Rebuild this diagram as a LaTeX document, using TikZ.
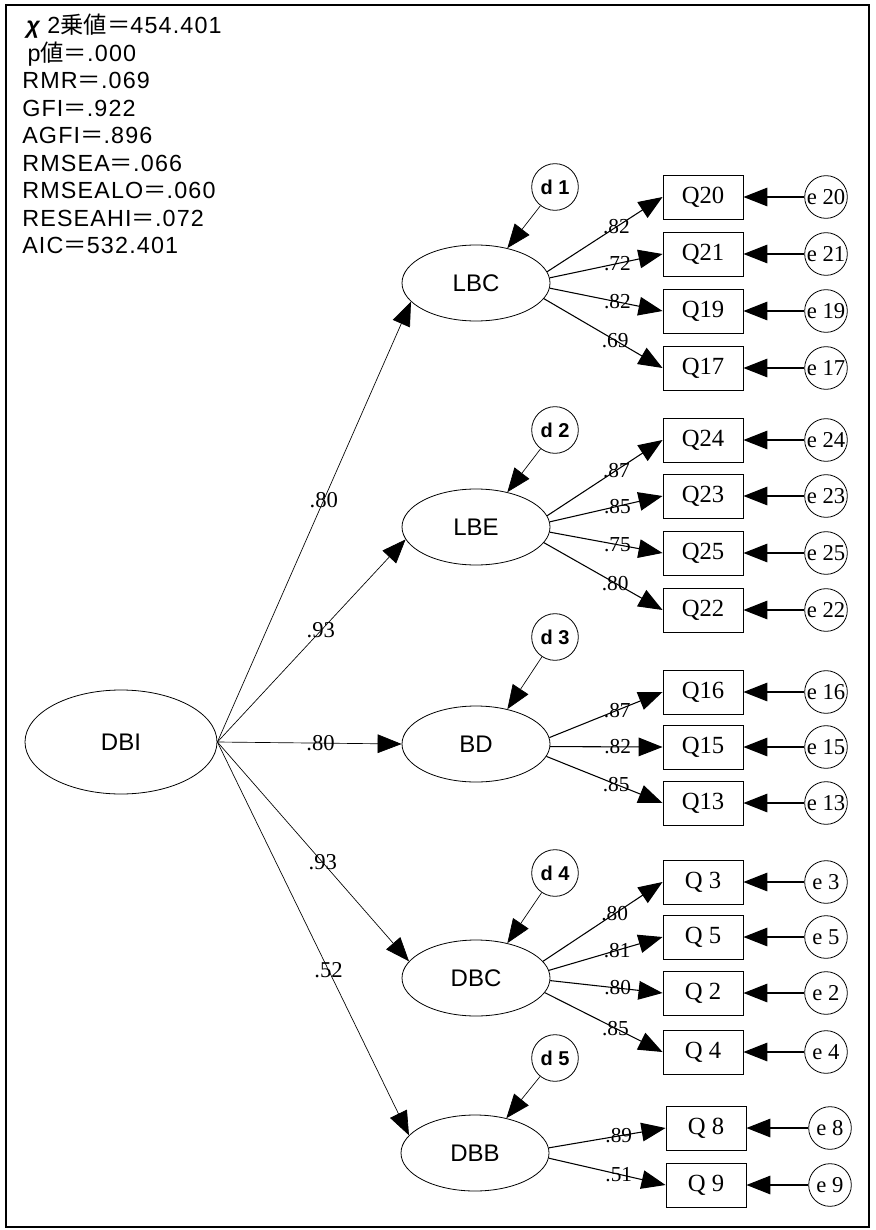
\documentclass[tikz,border=0pt]{standalone}
\usepackage{fontspec}
\setmainfont{Liberation Serif}
\setsansfont{Liberation Sans}
\newfontfamily\jpfont{Noto Sans CJK JP}
\newfontfamily\statfont{Liberation Sans}[LetterSpace=5]
\usetikzlibrary{arrows.meta,shapes.geometric}

\begin{document}
\begin{tikzpicture}[x=0.75pt,y=-0.75pt,
    lat/.style={draw,ellipse,line width=0.6pt,minimum width=111pt,minimum height=57pt,inner sep=0pt,font=\sffamily\fontsize{18}{20}\selectfont},
    obs/.style={draw,rectangle,line width=0.7pt,minimum width=60pt,minimum height=33pt,inner sep=0pt,font=\fontsize{18.5}{20}\selectfont},
    err/.style={draw,circle,line width=0.6pt,minimum size=32pt,inner sep=0pt,font=\fontsize{17}{18}\selectfont},
    dst/.style={draw,circle,line width=0.6pt,minimum size=35pt,inner sep=0pt,font=\sffamily\bfseries\fontsize{15}{16}\selectfont},
    arr/.style={-{Triangle[length=18pt,width=14pt]},line width=0.8pt},
    coef/.style={font=\fontsize{16}{17}\selectfont,inner sep=0.5pt}]
    \useasboundingbox (0,0) rectangle (875,1230);
    \draw[line width=1.6pt] (6,5) rectangle (869,1227);
    % fit indices
    \node[anchor=north west,align=left,inner sep=0pt,font=\statfont\fontsize{17.5}{20.6}\selectfont] (fit) at (22,14)
      {\hspace{3pt}{\bfseries\itshape χ} 2{\jpfont 乗値＝}454.401\\
       \hspace{4pt}p{\jpfont 値＝}.000\\
       RMR{\jpfont ＝}.069\\
       GFI{\jpfont ＝}.922\\
       AGFI{\jpfont ＝}.896\\
       RMSEA{\jpfont ＝}.066\\
       RMSEALO{\jpfont ＝}.060\\
       RESEAHI{\jpfont ＝}.072\\
       AIC{\jpfont ＝}532.401};
    % latent variables
    \node[lat,minimum width=144pt,minimum height=78pt] (DBI) at (121,742) {DBI};
    \node[lat] (LBC) at (476,283) {LBC};
    \node[lat] (LBE) at (476,527) {LBE};
    \node[lat] (BD) at (476,744) {BD};
    \node[lat] (DBC) at (476,978) {DBC};
    \node[lat] (DBB) at (475,1153) {DBB};
    % observed variables and errors
    \foreach \q/\t/\y in {20/Q20/197,21/Q21/254,19/Q19/311,17/Q17/368,24/Q24/440,23/Q23/496,25/Q25/553,22/Q22/610,16/Q16/692,15/Q15/747,13/Q13/803,3/Q~3/882,5/Q~5/937,2/Q~2/993,4/Q~4/1052} {
      \node[obs] (Q\q) at (703,\y) {\t};
      \node[err] (e\q) at (826,\y) {e~\q};
      \draw[arr] (e\q) -- (Q\q);
    }
    \foreach \q/\y in {8/1128,9/1185} {
      \node[obs] (Q\q) at (706,\y) {Q~\q};
      \node[err] (e\q) at (830,\y) {e~\q};
      \draw[arr] (e\q) -- (Q\q);
    }
    % disturbances
    \foreach \n/\t/\y in {1/LBC/187,2/LBE/430,3/BD/637,4/DBC/873,5/DBB/1058} {
      \node[dst] (d\n) at (555,\y) {d~\n};
      \draw[arr,line width=0.5pt] (d\n) -- (\t.48);
    }
    % structural paths
    \foreach \t/\a/\v/\p in {LBC/196/.80/0.55,LBE/190/.93/0.55,BD/180/.80/0.56,DBC/166/.93/0.55,DBB/165/.52/0.58}
      \draw[arr,line width=0.5pt] (DBI.east) -- node[coef,font=\fontsize{17}{18}\selectfont,pos=\p] {\v} (\t.\a);
    % loadings
    \foreach \f/\q/\a/\v in {LBC/20/9/.82,LBC/21/4/.72,LBC/19/356/.82,LBC/17/347/.69,LBE/24/9/.87,LBE/23/4/.85,LBE/25/356/.75,LBE/22/347/.80,BD/16/5/.87,BD/15/358/.82,BD/13/350/.85,DBC/3/14/.80,DBC/5/6/.81,DBC/2/358/.80,DBC/4/348/.85,DBB/8/4/.89,DBB/9/356/.51}
      \draw[arr] (\f.\a) -- node[coef,pos=0.6] {\v} (Q\q.west);
  \end{tikzpicture}
\end{document}
